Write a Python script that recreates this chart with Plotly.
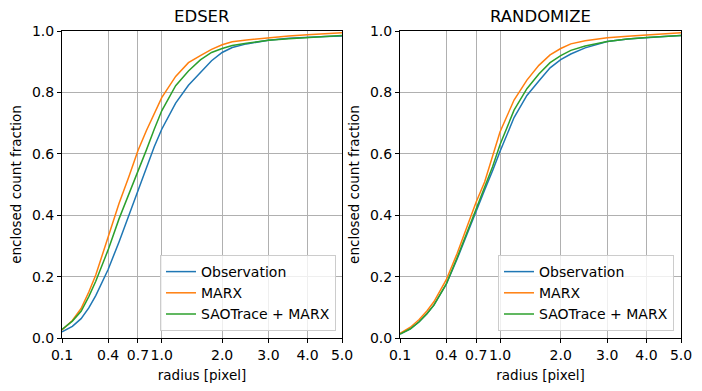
import numpy as np
import plotly.graph_objects as go

radius = [0.1, 0.15, 0.2, 0.25, 0.3, 0.4, 0.5, 0.6, 0.7, 0.8, 0.9, 1.0, 1.2, 1.4, 1.6, 1.8,
          2.0, 2.2, 2.5, 3.0, 3.5, 4.0, 4.5, 5.0]

edser_obs = [0.020, 0.038, 0.063, 0.098, 0.138, 0.223, 0.313, 0.400, 0.475, 0.550, 0.623, 0.680,
             0.765, 0.823, 0.865, 0.903, 0.930, 0.946, 0.958, 0.970, 0.976, 0.980, 0.982, 0.984]
edser_marx = [0.026, 0.057, 0.096, 0.150, 0.205, 0.330, 0.438, 0.525, 0.610, 0.675, 0.733, 0.783,
              0.852, 0.897, 0.920, 0.940, 0.955, 0.965, 0.971, 0.979, 0.984, 0.988, 0.991, 0.994]
edser_sao = [0.028, 0.055, 0.087, 0.135, 0.185, 0.287, 0.388, 0.467, 0.540, 0.612, 0.680, 0.740,
             0.822, 0.870, 0.906, 0.930, 0.943, 0.953, 0.960, 0.970, 0.975, 0.979, 0.982, 0.985]

rand_obs = [0.013, 0.030, 0.053, 0.079, 0.107, 0.175, 0.258, 0.340, 0.417, 0.482, 0.545, 0.608,
            0.718, 0.790, 0.837, 0.880, 0.907, 0.925, 0.945, 0.966, 0.974, 0.979, 0.982, 0.985]
rand_marx = [0.015, 0.035, 0.060, 0.088, 0.118, 0.190, 0.276, 0.360, 0.443, 0.508, 0.590, 0.672,
             0.775, 0.840, 0.888, 0.922, 0.943, 0.958, 0.968, 0.978, 0.983, 0.987, 0.991, 0.994]
rand_sao = [0.013, 0.030, 0.053, 0.079, 0.107, 0.176, 0.262, 0.345, 0.420, 0.488, 0.558, 0.630,
            0.742, 0.812, 0.860, 0.897, 0.920, 0.937, 0.951, 0.966, 0.974, 0.979, 0.982, 0.985]

tick_values = [0.1, 0.4, 0.7, 1.0, 2.0, 3.0, 4.0, 5.0]
tick_labels = ["0.1", "0.4", "0.7", "1.0", "2.0", "3.0", "4.0", "5.0"]
series_names = ["Observation", "MARX", "SAOTrace + MARX"]
colors = ["#1f77b4", "#ff7f0e", "#2ca02c"]
titles = ["EDSER", "RANDOMIZE"]

FONT = "DejaVu Sans"
W, H = 702, 391
ML, MR, MT, MB = 62, 21, 31, 53
pw = W - ML - MR
dom1 = [0, (342 - 62) / pw]
dom2 = [(400 - 62) / pw, 1]

sx = np.sqrt(np.array(radius))

fig = go.Figure()
panels = [(edser_obs, edser_marx, edser_sao), (rand_obs, rand_marx, rand_sao)]
for i, series in enumerate(panels):
    xa = "x" if i == 0 else "x2"
    ya = "y" if i == 0 else "y2"
    lg = "legend" if i == 0 else "legend2"
    for name, vals, col in zip(series_names, series, colors):
        fig.add_trace(go.Scatter(x=sx, y=vals, mode="lines", name=name,
                                 line=dict(color=col, width=1.5),
                                 xaxis=xa, yaxis=ya, legend=lg))

axis_common = dict(showline=True, linecolor="black", linewidth=1, mirror=True,
                   ticks="outside", ticklen=4, tickcolor="black", tickwidth=1,
                   showgrid=True, gridcolor="#b0b0b0", gridwidth=0.8, zeroline=False,
                   tickangle=0,
                   tickfont=dict(family=FONT, size=14, color="black"))

xcommon = dict(axis_common, range=[np.sqrt(0.1), np.sqrt(5.0)],
               tickvals=np.sqrt(np.array(tick_values)), ticktext=tick_labels,
               title=dict(text="radius [pixel]", font=dict(family=FONT, size=13.5, color="black"),
                          standoff=8))
ycommon = dict(axis_common, range=[0, 1], tickvals=[0, 0.2, 0.4, 0.6, 0.8, 1.0],
               tickformat=".1f",
               title=dict(text="enclosed count fraction", font=dict(family=FONT, size=13.5, color="black"),
                          standoff=7))

legend_common = dict(xanchor="right", y=(338 - 331) / 307, yanchor="bottom",
                     bgcolor="rgba(255,255,255,0.8)", bordercolor="#cccccc", borderwidth=1,
                     font=dict(family=FONT, size=14, color="black"), tracegroupgap=0)

fig.update_layout(
    width=W, height=H,
    margin=dict(l=ML, r=MR, t=MT, b=MB, autoexpand=False),
    paper_bgcolor="white", plot_bgcolor="white",
    font=dict(family=FONT, size=14, color="black"),
    xaxis=dict(xcommon, domain=dom1, anchor="y"),
    yaxis=dict(ycommon, domain=[0, 1], anchor="x"),
    xaxis2=dict(xcommon, domain=dom2, anchor="y2"),
    yaxis2=dict(ycommon, domain=[0, 1], anchor="x2"),
    legend=dict(legend_common, x=(336 - 62) / pw),
    legend2=dict(legend_common, x=1 - (681 - 674) / pw),
    showlegend=True,
)

for dom, t in zip([dom1, dom2], titles):
    fig.add_annotation(text=t, x=(dom[0] + dom[1]) / 2, y=1, xref="paper", yref="paper",
                       xanchor="center", yanchor="bottom", yshift=3, showarrow=False,
                       font=dict(family=FONT, size=16.5, color="black"))

fig.write_html("out.html", config={"displayModeBar": False},
               post_script="document.body.style.margin='0';")
